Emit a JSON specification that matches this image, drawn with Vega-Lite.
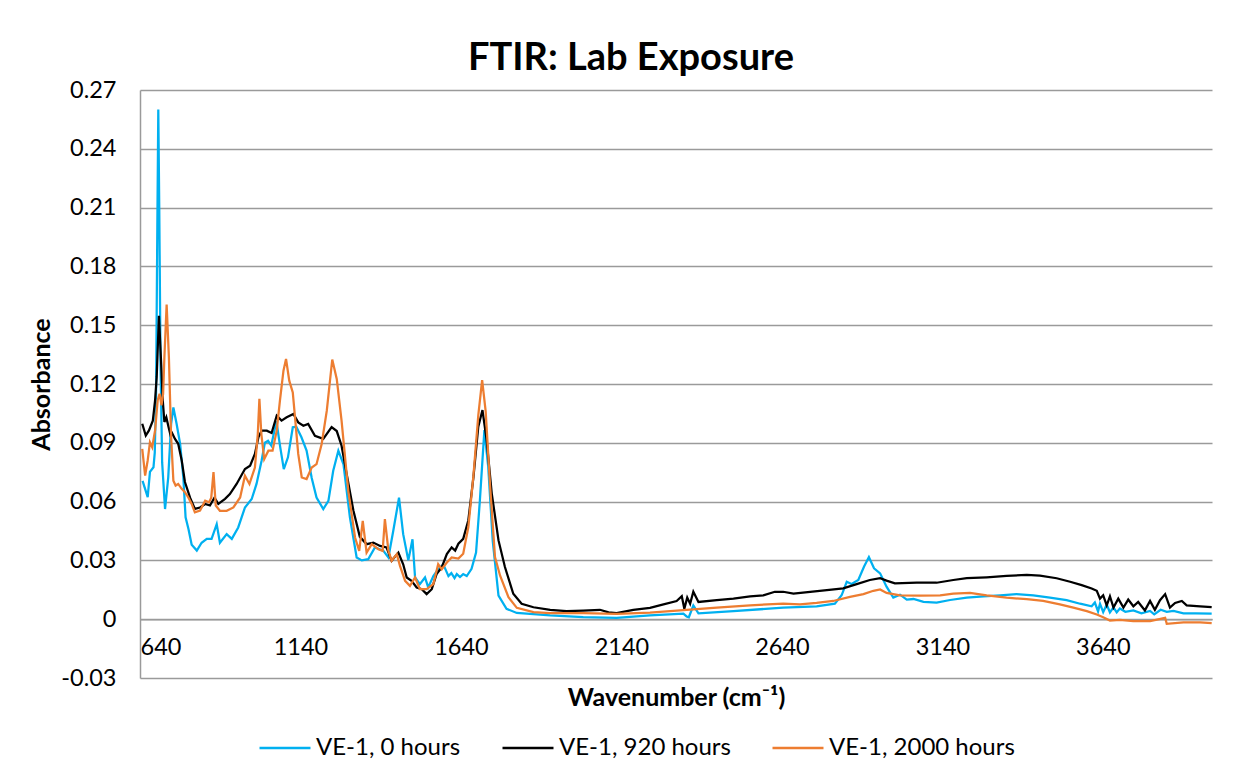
{
  "$schema": "https://vega.github.io/schema/vega-lite/v6.json",
  "width": 1072,
  "height": 588,
  "autosize": "none",
  "padding": {"left": 140, "top": 90, "right": 32, "bottom": 104},
  "background": "white",
  "config": {
    "font": "Lato",
    "view": {"stroke": null},
    "axis": {"labelFont": "Lato", "titleFont": "Lato", "labelColor": "#000000", "titleColor": "#000000"}
  },
  "title": {"text": "FTIR: Lab Exposure", "font": "Lato", "fontSize": 38, "fontWeight": "bold", "color": "#000000", "anchor": "middle", "frame": "group", "dx": -45, "offset": 0},
  "encoding": {
    "x": {"field": "w", "type": "quantitative",
      "scale": {"domain": [640, 3980], "nice": false, "zero": false},
      "axis": {"values": [640, 1140, 1640, 2140, 2640, 3140, 3640], "format": "d", "offset": -58.8, "grid": false, "ticks": false,
        "labelPadding": 16, "labelFontSize": 23.5, "domainColor": "#9a9a9a", "domainWidth": 1.5,
        "title": "Wavenumber (cm⁻¹)", "titleFontSize": 25, "titleFontWeight": "bold", "titlePadding": 27}},
    "y": {"field": "a", "type": "quantitative",
      "scale": {"domain": [-0.03, 0.27], "nice": false, "zero": false},
      "axis": {"values": [-0.03, 0, 0.03, 0.06, 0.09, 0.12, 0.15, 0.18, 0.21, 0.24, 0.27],
        "labelExpr": "datum.value == 0 ? '0' : replace(format(datum.value, '.2f'), '\u2212', '-')",
        "ticks": false, "labelPadding": 24, "labelFontSize": 23.5, "domainColor": "#9a9a9a", "domainWidth": 1.5,
        "gridColor": "#9a9a9a", "gridWidth": 1.3,
        "title": "Absorbance", "titleFontSize": 25, "titleFontWeight": "bold", "titlePadding": 6}},
    "color": {"type": "nominal",
      "scale": {"domain": ["VE-1, 0 hours", "VE-1, 920 hours", "VE-1, 2000 hours"], "range": ["#00B0F0", "#000000", "#ED7D31"]},
      "legend": {"title": null, "orient": "none", "legendX": 118, "legendY": 631, "direction": "horizontal",
        "symbolType": "stroke", "symbolSize": 2600, "symbolStrokeWidth": 2.5, "labelFontSize": 24, "labelFont": "Lato",
        "labelColor": "#000000", "labelOffset": 4, "labelLimit": 0, "columnPadding": 36, "padding": 0}}
  },
  "layer": [
    {
      "data": {"values": [
        {"w":648,"a":0.0706},{"w":664,"a":0.0623},{"w":671,"a":0.0752},{"w":682,"a":0.0775},{"w":686,"a":0.085},{"w":690,"a":0.115},{"w":694,"a":0.2},{"w":697,"a":0.26},{"w":700,"a":0.21},{"w":704,"a":0.13},{"w":709,"a":0.08},{"w":718,"a":0.0562},{"w":728,"a":0.0724},{"w":737,"a":0.0997},{"w":744,"a":0.108},{"w":754,"a":0.0997},{"w":765,"a":0.0895},{"w":775,"a":0.0724},{"w":782,"a":0.052},{"w":791,"a":0.046},{"w":801,"a":0.038},{"w":817,"a":0.035},{"w":832,"a":0.039},{"w":848,"a":0.041},{"w":863,"a":0.041},{"w":879,"a":0.0485},{"w":889,"a":0.039},{"w":910,"a":0.0434},{"w":926,"a":0.041},{"w":946,"a":0.0468},{"w":967,"a":0.057},{"w":988,"a":0.0613},{"w":1003,"a":0.069},{"w":1019,"a":0.081},{"w":1029,"a":0.09},{"w":1039,"a":0.091},{"w":1049,"a":0.0886},{"w":1065,"a":0.101},{"w":1077,"a":0.0877},{"w":1088,"a":0.0766},{"w":1101,"a":0.0826},{"w":1116,"a":0.0979},{"w":1127,"a":0.0982},{"w":1143,"a":0.0928},{"w":1159,"a":0.086},{"w":1175,"a":0.072},{"w":1190,"a":0.0621},{"w":1211,"a":0.0562},{"w":1227,"a":0.0604},{"w":1242,"a":0.0757},{"w":1258,"a":0.086},{"w":1274,"a":0.079},{"w":1294,"a":0.052},{"w":1315,"a":0.0315},{"w":1331,"a":0.03},{"w":1351,"a":0.0306},{"w":1372,"a":0.0366},{"w":1398,"a":0.035},{"w":1414,"a":0.0315},{"w":1429,"a":0.045},{"w":1447,"a":0.062},{"w":1460,"a":0.0434},{"w":1476,"a":0.03},{"w":1489,"a":0.0408},{"w":1497,"a":0.0213},{"w":1512,"a":0.0179},{"w":1528,"a":0.0213},{"w":1538,"a":0.0162},{"w":1554,"a":0.022},{"w":1569,"a":0.0255},{"w":1585,"a":0.028},{"w":1601,"a":0.022},{"w":1610,"a":0.0235},{"w":1620,"a":0.021},{"w":1627,"a":0.023},{"w":1637,"a":0.0215},{"w":1647,"a":0.023},{"w":1658,"a":0.022},{"w":1673,"a":0.0257},{"w":1687,"a":0.034},{"w":1699,"a":0.0607},{"w":1713,"a":0.0965},{"w":1725,"a":0.0777},{"w":1739,"a":0.04},{"w":1757,"a":0.012},{"w":1782,"a":0.0053},{"w":1814,"a":0.0032},{"w":1918,"a":0.0019},{"w":2021,"a":0.0011},{"w":2125,"a":0.0007},{"w":2229,"a":0.0019},{"w":2333,"a":0.0028},{"w":2343,"a":0.0014},{"w":2350,"a":0.001},{"w":2364,"a":0.007},{"w":2380,"a":0.003},{"w":2489,"a":0.0041},{"w":2644,"a":0.0059},{"w":2748,"a":0.0066},{"w":2805,"a":0.0079},{"w":2826,"a":0.0122},{"w":2842,"a":0.0191},{"w":2857,"a":0.018},{"w":2878,"a":0.02},{"w":2896,"a":0.0269},{"w":2911,"a":0.0317},{"w":2927,"a":0.026},{"w":2946,"a":0.0234},{"w":2966,"a":0.0166},{"w":2987,"a":0.011},{"w":3008,"a":0.0125},{"w":3029,"a":0.01},{"w":3050,"a":0.0103},{"w":3081,"a":0.0088},{"w":3122,"a":0.0085},{"w":3164,"a":0.0098},{"w":3216,"a":0.011},{"w":3268,"a":0.0117},{"w":3320,"a":0.0122},{"w":3371,"a":0.0128},{"w":3423,"a":0.0122},{"w":3475,"a":0.011},{"w":3527,"a":0.0097},{"w":3569,"a":0.0079},{"w":3605,"a":0.0066},{"w":3615,"a":0.0085},{"w":3625,"a":0.004},{"w":3631,"a":0.0079},{"w":3641,"a":0.0036},{"w":3652,"a":0.0075},{"w":3662,"a":0.0035},{"w":3673,"a":0.006},{"w":3683,"a":0.0035},{"w":3693,"a":0.0055},{"w":3710,"a":0.0038},{"w":3735,"a":0.0045},{"w":3760,"a":0.003},{"w":3787,"a":0.0042},{"w":3800,"a":0.0025},{"w":3820,"a":0.0048},{"w":3839,"a":0.0038},{"w":3860,"a":0.0042},{"w":3891,"a":0.003},{"w":3930,"a":0.003},{"w":3979,"a":0.0028}
      ]},
      "mark": {"type": "line", "strokeWidth": 2.25, "interpolate": "linear"},
      "encoding": {"color": {"datum": "VE-1, 0 hours"}}
    },
    {
      "data": {"values": [
        {"w":647,"a":0.0997},{"w":658,"a":0.0937},{"w":668,"a":0.0963},{"w":680,"a":0.1013},{"w":687,"a":0.1116},{"w":692,"a":0.1236},{"w":699,"a":0.1548},{"w":705,"a":0.1338},{"w":711,"a":0.1116},{"w":716,"a":0.1006},{"w":722,"a":0.103},{"w":728,"a":0.0987},{"w":735,"a":0.094},{"w":740,"a":0.095},{"w":749,"a":0.092},{"w":759,"a":0.0895},{"w":770,"a":0.081},{"w":780,"a":0.07},{"w":796,"a":0.062},{"w":811,"a":0.0563},{"w":827,"a":0.057},{"w":843,"a":0.0588},{"w":858,"a":0.058},{"w":872,"a":0.062},{"w":884,"a":0.0588},{"w":905,"a":0.0614},{"w":920,"a":0.0638},{"w":941,"a":0.069},{"w":967,"a":0.0766},{"w":983,"a":0.0783},{"w":998,"a":0.0843},{"w":1009,"a":0.0928},{"w":1019,"a":0.0962},{"w":1035,"a":0.0962},{"w":1050,"a":0.095},{"w":1066,"a":0.1038},{"w":1081,"a":0.1013},{"w":1097,"a":0.103},{"w":1118,"a":0.1047},{"w":1133,"a":0.1004},{"w":1149,"a":0.0987},{"w":1164,"a":0.0996},{"w":1185,"a":0.0936},{"w":1211,"a":0.092},{"w":1237,"a":0.098},{"w":1253,"a":0.096},{"w":1268,"a":0.0885},{"w":1284,"a":0.074},{"w":1305,"a":0.0553},{"w":1325,"a":0.042},{"w":1346,"a":0.0383},{"w":1367,"a":0.0391},{"w":1388,"a":0.0374},{"w":1408,"a":0.0366},{"w":1424,"a":0.0298},{"w":1445,"a":0.034},{"w":1460,"a":0.028},{"w":1471,"a":0.0213},{"w":1486,"a":0.0196},{"w":1502,"a":0.0162},{"w":1518,"a":0.0153},{"w":1533,"a":0.0128},{"w":1549,"a":0.0153},{"w":1564,"a":0.023},{"w":1580,"a":0.0264},{"w":1596,"a":0.0332},{"w":1611,"a":0.0366},{"w":1622,"a":0.035},{"w":1632,"a":0.0385},{"w":1647,"a":0.041},{"w":1663,"a":0.0505},{"w":1679,"a":0.0726},{"w":1694,"a":0.0982},{"w":1707,"a":0.1067},{"w":1720,"a":0.0914},{"w":1736,"a":0.0641},{"w":1757,"a":0.0402},{"w":1777,"a":0.0266},{"w":1803,"a":0.013},{"w":1829,"a":0.0079},{"w":1866,"a":0.0061},{"w":1918,"a":0.0048},{"w":1969,"a":0.0041},{"w":2021,"a":0.0044},{"w":2073,"a":0.0048},{"w":2100,"a":0.0035},{"w":2125,"a":0.0031},{"w":2177,"a":0.0048},{"w":2229,"a":0.0058},{"w":2271,"a":0.0076},{"w":2312,"a":0.0093},{"w":2328,"a":0.0117},{"w":2336,"a":0.0053},{"w":2345,"a":0.011},{"w":2354,"a":0.0079},{"w":2364,"a":0.014},{"w":2380,"a":0.0088},{"w":2437,"a":0.0097},{"w":2489,"a":0.0105},{"w":2541,"a":0.0117},{"w":2582,"a":0.0122},{"w":2618,"a":0.014},{"w":2644,"a":0.014},{"w":2676,"a":0.0131},{"w":2728,"a":0.014},{"w":2780,"a":0.0148},{"w":2831,"a":0.0157},{"w":2873,"a":0.0179},{"w":2914,"a":0.02},{"w":2946,"a":0.0209},{"w":2966,"a":0.0197},{"w":2992,"a":0.0183},{"w":3060,"a":0.0186},{"w":3122,"a":0.0186},{"w":3174,"a":0.02},{"w":3216,"a":0.0209},{"w":3278,"a":0.0214},{"w":3340,"a":0.0221},{"w":3403,"a":0.0226},{"w":3444,"a":0.0222},{"w":3496,"a":0.0209},{"w":3538,"a":0.0191},{"w":3574,"a":0.0174},{"w":3605,"a":0.0157},{"w":3621,"a":0.0145},{"w":3631,"a":0.0105},{"w":3641,"a":0.0122},{"w":3652,"a":0.0071},{"w":3662,"a":0.0117},{"w":3673,"a":0.0059},{"w":3688,"a":0.0105},{"w":3704,"a":0.0059},{"w":3719,"a":0.01},{"w":3735,"a":0.0066},{"w":3750,"a":0.0088},{"w":3771,"a":0.0045},{"w":3787,"a":0.0093},{"w":3802,"a":0.0048},{"w":3818,"a":0.0097},{"w":3834,"a":0.0128},{"w":3849,"a":0.0059},{"w":3865,"a":0.0083},{"w":3886,"a":0.0093},{"w":3901,"a":0.0071},{"w":3943,"a":0.0066},{"w":3979,"a":0.0062}
      ]},
      "mark": {"type": "line", "strokeWidth": 2.25, "interpolate": "linear"},
      "encoding": {"color": {"datum": "VE-1, 920 hours"}}
    },
    {
      "data": {"values": [
        {"w":647,"a":0.0869},{"w":656,"a":0.0733},{"w":664,"a":0.081},{"w":671,"a":0.0903},{"w":678,"a":0.0878},{"w":687,"a":0.0963},{"w":695,"a":0.1116},{"w":701,"a":0.115},{"w":707,"a":0.1091},{"w":712,"a":0.115},{"w":716,"a":0.1338},{"w":723,"a":0.1605},{"w":730,"a":0.1338},{"w":737,"a":0.0929},{"w":744,"a":0.0707},{"w":751,"a":0.0682},{"w":759,"a":0.069},{"w":770,"a":0.0665},{"w":780,"a":0.0648},{"w":791,"a":0.062},{"w":801,"a":0.0588},{"w":811,"a":0.0545},{"w":827,"a":0.0554},{"w":843,"a":0.0605},{"w":855,"a":0.0596},{"w":862,"a":0.062},{"w":869,"a":0.075},{"w":876,"a":0.058},{"w":889,"a":0.0553},{"w":910,"a":0.0553},{"w":931,"a":0.057},{"w":952,"a":0.0621},{"w":967,"a":0.0732},{"w":981,"a":0.069},{"w":998,"a":0.0774},{"w":1007,"a":0.0945},{"w":1012,"a":0.1125},{"w":1018,"a":0.0945},{"w":1027,"a":0.0817},{"w":1040,"a":0.086},{"w":1053,"a":0.086},{"w":1066,"a":0.0962},{"w":1076,"a":0.1115},{"w":1087,"a":0.1268},{"w":1095,"a":0.1328},{"w":1105,"a":0.1217},{"w":1116,"a":0.1157},{"w":1123,"a":0.103},{"w":1133,"a":0.0843},{"w":1144,"a":0.0723},{"w":1159,"a":0.0715},{"w":1175,"a":0.0774},{"w":1190,"a":0.0791},{"w":1206,"a":0.0894},{"w":1222,"a":0.1064},{"w":1239,"a":0.1325},{"w":1253,"a":0.1226},{"w":1268,"a":0.1013},{"w":1289,"a":0.0655},{"w":1310,"a":0.0417},{"w":1323,"a":0.0349},{"w":1334,"a":0.0502},{"w":1346,"a":0.034},{"w":1362,"a":0.0383},{"w":1383,"a":0.0357},{"w":1396,"a":0.0349},{"w":1403,"a":0.0511},{"w":1414,"a":0.0349},{"w":1424,"a":0.0298},{"w":1440,"a":0.0332},{"w":1450,"a":0.0272},{"w":1466,"a":0.0196},{"w":1481,"a":0.017},{"w":1497,"a":0.0213},{"w":1512,"a":0.0153},{"w":1533,"a":0.0153},{"w":1554,"a":0.0179},{"w":1569,"a":0.0281},{"w":1580,"a":0.0255},{"w":1596,"a":0.0289},{"w":1611,"a":0.0315},{"w":1632,"a":0.0309},{"w":1647,"a":0.0334},{"w":1663,"a":0.047},{"w":1679,"a":0.0735},{"w":1694,"a":0.104},{"w":1706,"a":0.122},{"w":1717,"a":0.106},{"w":1731,"a":0.0675},{"w":1746,"a":0.0317},{"w":1762,"a":0.0222},{"w":1788,"a":0.0112},{"w":1814,"a":0.0058},{"w":1866,"a":0.0036},{"w":1918,"a":0.0031},{"w":2021,"a":0.0031},{"w":2125,"a":0.0027},{"w":2229,"a":0.0033},{"w":2333,"a":0.0046},{"w":2437,"a":0.0059},{"w":2541,"a":0.0071},{"w":2644,"a":0.0079},{"w":2696,"a":0.0076},{"w":2748,"a":0.0083},{"w":2800,"a":0.0093},{"w":2852,"a":0.0114},{"w":2894,"a":0.0128},{"w":2925,"a":0.0145},{"w":2946,"a":0.0152},{"w":2966,"a":0.0134},{"w":3008,"a":0.0122},{"w":3070,"a":0.012},{"w":3133,"a":0.0122},{"w":3174,"a":0.0131},{"w":3226,"a":0.0134},{"w":3278,"a":0.0122},{"w":3340,"a":0.011},{"w":3403,"a":0.0102},{"w":3454,"a":0.0093},{"w":3506,"a":0.0076},{"w":3548,"a":0.0059},{"w":3590,"a":0.0041},{"w":3621,"a":0.0024},{"w":3641,"a":0.001},{"w":3662,"a":-0.0007},{"w":3693,"a":-0.0003},{"w":3735,"a":-0.001},{"w":3787,"a":-0.001},{"w":3834,"a":0.0007},{"w":3839,"a":-0.0024},{"w":3891,"a":-0.0016},{"w":3943,"a":-0.0016},{"w":3979,"a":-0.002}
      ]},
      "mark": {"type": "line", "strokeWidth": 2.25, "interpolate": "linear"},
      "encoding": {"color": {"datum": "VE-1, 2000 hours"}}
    }
  ]
}
